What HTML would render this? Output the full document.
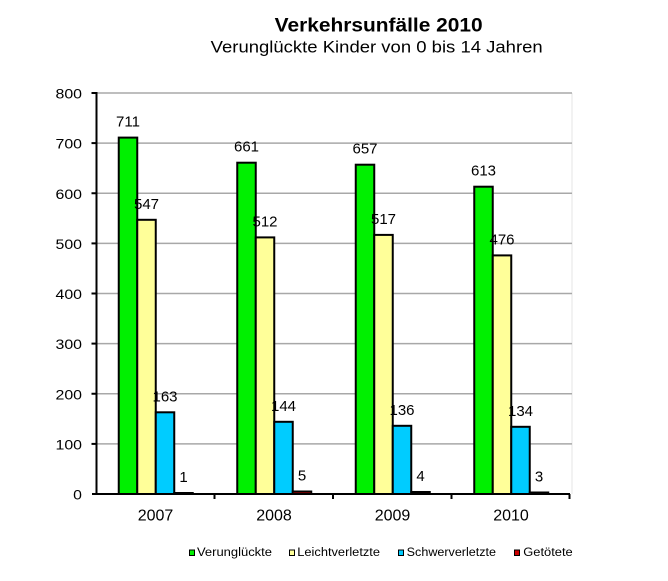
<!DOCTYPE html>
<html>
<head>
<meta charset="utf-8">
<style>
  html,body{margin:0;padding:0;background:#fff;}
  svg{display:block;}
  text{font-family:"Liberation Sans", Arial, sans-serif;fill:#000;}
</style>
</head>
<body>
<svg width="668" height="581" viewBox="0 0 668 581" xmlns="http://www.w3.org/2000/svg">
  <rect x="0" y="0" width="668" height="581" fill="#fff"/>

  <!-- Title -->
  <text x="378.7" y="31.5" font-size="19" font-weight="bold" text-anchor="middle" textLength="208" lengthAdjust="spacingAndGlyphs">Verkehrsunfälle 2010</text>
  <text x="376.7" y="52.5" font-size="16.5" text-anchor="middle" textLength="332" lengthAdjust="spacingAndGlyphs">Verunglückte Kinder von 0 bis 14 Jahren</text>

  <!-- plot right border (faint) -->
  <line x1="572" y1="93" x2="572" y2="494" stroke="#e6e6e6" stroke-width="1"/>

  <!-- Gridlines -->
  <g stroke="#a8a8a8" stroke-width="1.5">
    <line x1="96" y1="443.9" x2="572" y2="443.9"/>
    <line x1="96" y1="393.75" x2="572" y2="393.75"/>
    <line x1="96" y1="343.6" x2="572" y2="343.6"/>
    <line x1="96" y1="293.5" x2="572" y2="293.5"/>
    <line x1="96" y1="243.4" x2="572" y2="243.4"/>
    <line x1="96" y1="193.25" x2="572" y2="193.25"/>
    <line x1="96" y1="143.1" x2="572" y2="143.1"/>
    <line x1="96" y1="93" x2="572" y2="93"/>
  </g>

  <!-- Bars -->
  <g stroke="#000" stroke-width="2">
    <!-- 2007 -->
    <rect x="118.75" y="137.6" width="18.5" height="356.4" fill="#00f000"/>
    <rect x="137.25" y="219.8" width="18.5" height="274.2" fill="#ffff99"/>
    <rect x="155.75" y="412.3" width="18.5" height="81.7" fill="#00ccff"/>
    <rect x="174.25" y="493" width="18.5" height="1" fill="#cc0000"/>
    <!-- 2008 -->
    <rect x="237.25" y="162.7" width="18.5" height="331.3" fill="#00f000"/>
    <rect x="255.75" y="237.4" width="18.5" height="256.6" fill="#ffff99"/>
    <rect x="274.25" y="421.8" width="18.5" height="72.2" fill="#00ccff"/>
    <rect x="292.75" y="491.5" width="18.5" height="2.5" fill="#cc0000"/>
    <!-- 2009 -->
    <rect x="355.75" y="164.7" width="18.5" height="329.3" fill="#00f000"/>
    <rect x="374.25" y="234.9" width="18.5" height="259.1" fill="#ffff99"/>
    <rect x="392.75" y="425.8" width="18.5" height="68.2" fill="#00ccff"/>
    <rect x="411.25" y="492" width="18.5" height="2" fill="#cc0000"/>
    <!-- 2010 -->
    <rect x="474.25" y="186.7" width="18.5" height="307.3" fill="#00f000"/>
    <rect x="492.75" y="255.4" width="18.5" height="238.6" fill="#ffff99"/>
    <rect x="511.25" y="426.8" width="18.5" height="67.2" fill="#00ccff"/>
    <rect x="529.75" y="492.5" width="18.5" height="1.5" fill="#cc0000"/>
  </g>

  <!-- Axes -->
  <line x1="96.5" y1="92" x2="96.5" y2="495" stroke="#000" stroke-width="2"/>
  <line x1="92" y1="494" x2="570" y2="494" stroke="#000" stroke-width="2"/>
  <g stroke="#000" stroke-width="2">
    <line x1="91.5" y1="93" x2="96" y2="93"/>
    <line x1="91.5" y1="143.1" x2="96" y2="143.1"/>
    <line x1="91.5" y1="193.25" x2="96" y2="193.25"/>
    <line x1="91.5" y1="243.4" x2="96" y2="243.4"/>
    <line x1="91.5" y1="293.5" x2="96" y2="293.5"/>
    <line x1="91.5" y1="343.6" x2="96" y2="343.6"/>
    <line x1="91.5" y1="393.75" x2="96" y2="393.75"/>
    <line x1="91.5" y1="443.9" x2="96" y2="443.9"/>
    <line x1="214.5" y1="494" x2="214.5" y2="499"/>
    <line x1="333" y1="494" x2="333" y2="499"/>
    <line x1="451.5" y1="494" x2="451.5" y2="499"/>
    <line x1="569.5" y1="494" x2="569.5" y2="499"/>
  </g>

  <!-- Y labels -->
  <g font-size="14" text-anchor="end">
    <text x="82" y="98.5" textLength="26.5" lengthAdjust="spacingAndGlyphs">800</text>
    <text x="82" y="148.6" textLength="26.5" lengthAdjust="spacingAndGlyphs">700</text>
    <text x="82" y="198.75" textLength="26.5" lengthAdjust="spacingAndGlyphs">600</text>
    <text x="82" y="248.9" textLength="26.5" lengthAdjust="spacingAndGlyphs">500</text>
    <text x="82" y="299" textLength="26.5" lengthAdjust="spacingAndGlyphs">400</text>
    <text x="82" y="349.1" textLength="26.5" lengthAdjust="spacingAndGlyphs">300</text>
    <text x="82" y="399.25" textLength="26.5" lengthAdjust="spacingAndGlyphs">200</text>
    <text x="82" y="449.4" textLength="26.5" lengthAdjust="spacingAndGlyphs">100</text>
    <text x="82" y="499.5" textLength="8.8" lengthAdjust="spacingAndGlyphs">0</text>
  </g>

  <!-- X labels -->
  <g font-size="16" text-anchor="middle">
    <text x="155.5" y="520.5">2007</text>
    <text x="274" y="520.5">2008</text>
    <text x="392.5" y="520.5">2009</text>
    <text x="511" y="520.5">2010</text>
  </g>

  <!-- Value labels -->
  <g font-size="15" text-anchor="middle">
    <text x="128" y="126.3">711</text>
    <text x="146.5" y="208.8">547</text>
    <text x="165" y="401.3">163</text>
    <text x="183.5" y="482">1</text>

    <text x="246.5" y="151.7">661</text>
    <text x="265" y="226.4">512</text>
    <text x="283.5" y="410.8">144</text>
    <text x="302" y="480.5">5</text>

    <text x="365" y="153.7">657</text>
    <text x="383.5" y="223.9">517</text>
    <text x="402" y="414.8">136</text>
    <text x="420.5" y="481">4</text>

    <text x="483.5" y="175.7">613</text>
    <text x="502" y="244.4">476</text>
    <text x="520.5" y="415.8">134</text>
    <text x="539" y="481.5">3</text>
  </g>

  <!-- Legend -->
  <g stroke="#000" stroke-width="1">
    <rect x="189.5" y="550" width="5" height="5.5" fill="#00f000"/>
    <rect x="289.5" y="550" width="5" height="5.5" fill="#ffff99"/>
    <rect x="398.5" y="550" width="5" height="5.5" fill="#00ccff"/>
    <rect x="514.5" y="550" width="5" height="5.5" fill="#cc0000"/>
  </g>
  <g font-size="11.5">
    <text x="197" y="556" textLength="75" lengthAdjust="spacingAndGlyphs">Verunglückte</text>
    <text x="297.3" y="556" textLength="82.7" lengthAdjust="spacingAndGlyphs">Leichtverletzte</text>
    <text x="406.7" y="556" textLength="89.3" lengthAdjust="spacingAndGlyphs">Schwerverletzte</text>
    <text x="523.3" y="556" textLength="49.4" lengthAdjust="spacingAndGlyphs">Getötete</text>
  </g>
</svg>
</body>
</html>
